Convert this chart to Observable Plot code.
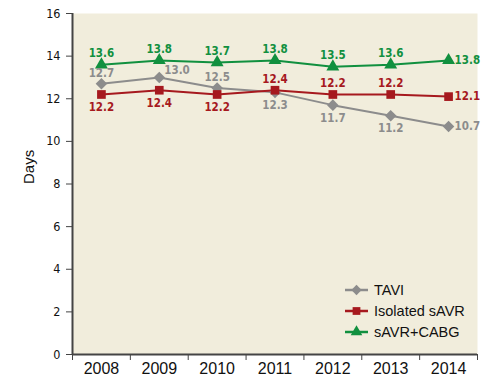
<!DOCTYPE html>
<html><head><meta charset="utf-8">
<script src="https://cdn.jsdelivr.net/npm/d3@7"></script>
<script src="https://cdn.jsdelivr.net/npm/@observablehq/plot@0.6"></script>
<style>
body{margin:0;background:#fff;}
#wrap{position:relative;width:502px;height:387px;}
#legend{position:absolute;left:345px;top:279px;font:14.5px "Liberation Sans",Arial,sans-serif;color:#111;}
#legend .row{display:flex;align-items:center;height:21px;}
#legend svg{margin-right:5px;}
</style></head><body><div id="wrap"><div id="legend"></div></div>
<script>
const years = [2008, 2009, 2010, 2011, 2012, 2013, 2014];
const tavi = [12.7, 13.0, 12.5, 12.3, 11.7, 11.2, 10.7];
const isolatedSAVR = [12.2, 12.4, 12.2, 12.4, 12.2, 12.2, 12.1];
const savrCabg = [13.6, 13.8, 13.7, 13.8, 13.5, 13.6, 13.8];
const seriesNames = ["TAVI", "Isolated sAVR", "sAVR+CABG"];
const seriesValues = [tavi, isolatedSAVR, savrCabg];
const seriesColors = ["#8c8c8c", "#a6191e", "#11903f"];
const seriesSymbols = ["diamond2", "square", "triangle"];
const seriesSizes = [5.2, 4.9, 4.8];
const labelPlacement = [
  ["above", "aboveRight", "above", "below", "below", "below", "right"],
  ["below", "below", "below", "above", "above", "above", "right"],
  ["above", "above", "above", "above", "above", "above", "right"]
];
const yTicks = [0, 2, 4, 6, 8, 10, 12, 14, 16];

const placeStyle = {
  above: {dx: 0, dy: -11, textAnchor: "middle"},
  below: {dx: 0, dy: 13, textAnchor: "middle"},
  aboveRight: {dx: 5, dy: -7, textAnchor: "start"},
  right: {dx: 6, dy: 0, textAnchor: "start"}
};

const data = [];
seriesNames.forEach((s, i) => years.forEach((y, j) =>
  data.push({series: s, year: y, value: seriesValues[i][j], place: labelPlacement[i][j]})));

const marks = [
  Plot.frame({fill: "#f1eddc", stroke: "none"}),
  Plot.axisY({ticks: yTicks, tickSize: 6, tickPadding: 6, label: null, tickFormat: d => String(d),
    fontFamily: "'Liberation Sans Narrow','DejaVu Sans Condensed',sans-serif", fontSize: 12.5, stroke: "#444"}),
  Plot.axisX({ticks: years, tickSize: 0, tickPadding: 8, label: null, tickFormat: d => String(d),
    fontFamily: "'Liberation Sans',Arial,sans-serif", fontSize: 16}),
  Plot.axisX({ticks: [...years.map(y => y - 0.5), years[years.length - 1] + 0.5], tickSize: 6,
    tickFormat: () => "", label: null, stroke: "#444"}),
  Plot.text(["Days"], {frameAnchor: "left", rotate: -90, dx: -43, text: d => d,
    fontFamily: "'Liberation Sans',Arial,sans-serif", fontSize: 15, fill: "#111"}),
  Plot.ruleX([years[0] - 0.5], {stroke: "#444", strokeWidth: 2}),
  Plot.ruleY([0], {stroke: "#444", strokeWidth: 2})
];

seriesNames.forEach((s, i) => {
  const d = data.filter(r => r.series === s);
  marks.push(Plot.line(d, {x: "year", y: "value", stroke: seriesColors[i], strokeWidth: 2}));
});
seriesNames.forEach((s, i) => {
  const d = data.filter(r => r.series === s);
  marks.push(Plot.dot(d, {x: "year", y: "value", fill: seriesColors[i], stroke: "none",
    symbol: () => seriesSymbols[i], r: seriesSizes[i]}));
});
seriesNames.forEach((s, i) => {
  Object.entries(placeStyle).forEach(([k, st]) => {
    const d = data.filter(r => r.series === s && r.place === k);
    if (!d.length) return;
    marks.push(Plot.text(d, {x: "year", y: "value", text: r => r.value.toFixed(1),
      dx: st.dx, dy: st.dy, textAnchor: st.textAnchor, fill: seriesColors[i],
      fontWeight: "bold", fontSize: 11.5,
      fontFamily: "'Liberation Sans Narrow','DejaVu Sans Condensed',sans-serif"}));
  });
});

const chart = Plot.plot({
  width: 502, height: 387,
  marginLeft: 72, marginRight: 25, marginTop: 13, marginBottom: 33,
  x: {type: "linear", domain: [years[0] - 0.5, years[years.length - 1] + 0.5]},
  y: {domain: [0, 16]},
  style: {background: "transparent", color: "#111"},
  marks
});
const wrap = document.getElementById("wrap");
wrap.insertBefore(chart, wrap.firstChild);

const legend = document.getElementById("legend");
seriesNames.forEach((s, i) => {
  const row = document.createElement("div");
  row.className = "row";
  const sym = d3.symbol(d3[{diamond2: "symbolDiamond2", square: "symbolSquare", triangle: "symbolTriangle"}[seriesSymbols[i]]], Math.PI * seriesSizes[i] ** 2 * 0.8)();
  row.innerHTML = `<svg width="24" height="14"><line x1="0" x2="23" y1="7" y2="7" stroke="${seriesColors[i]}" stroke-width="2.5"/><path transform="translate(11.5,7)" d="${sym}" fill="${seriesColors[i]}"/></svg><span>${s}</span>`;
  legend.appendChild(row);
});
</script>
</body></html>
